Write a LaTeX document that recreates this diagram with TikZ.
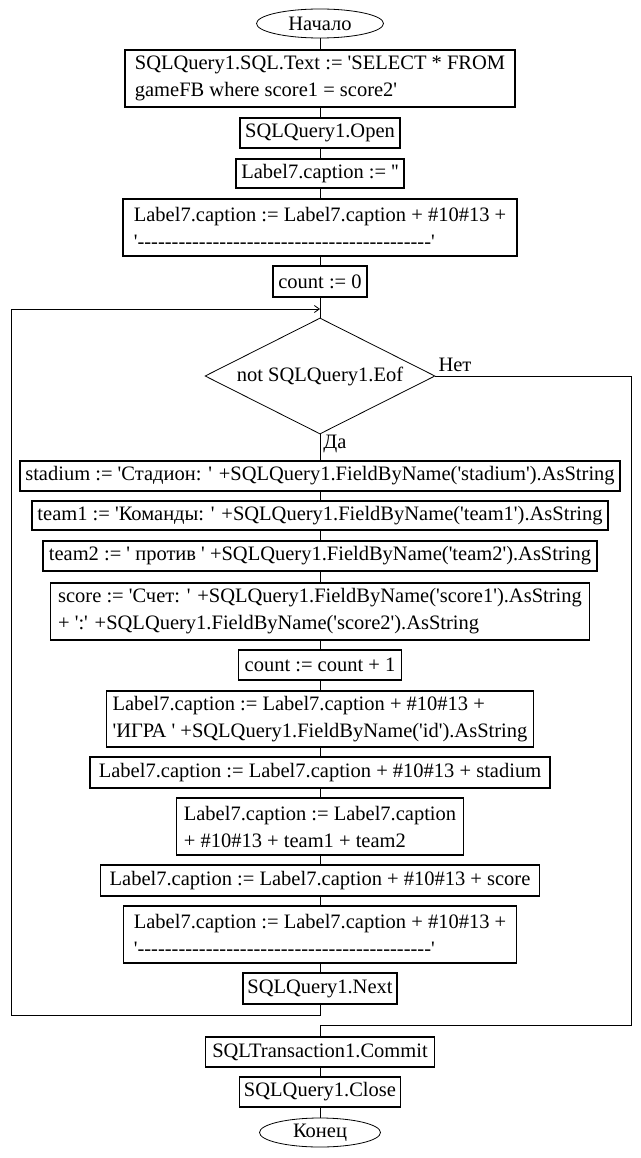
\documentclass[tikz,border=0pt]{standalone}
\usepackage{fontspec}
\newfontfamily\tnr{Liberation Serif}
\usetikzlibrary{shapes.geometric,arrows.meta}
\newcommand\dsh{-{}-{}-{}-{}-{}-{}-{}-{}-{}-{}}
\begin{document}
\begin{tikzpicture}[x=1pt,y=-1pt,
  font=\tnr\fontsize{20.5}{27}\selectfont,
  proc/.style={draw, line width=1.3pt, inner xsep=2pt, inner ysep=0pt, align=left, minimum height=30},
  term/.style={draw, ellipse, line width=0.8pt, inner sep=0pt},
  dec/.style={draw, diamond, shape aspect=2, line width=0.8pt, inner sep=0pt, minimum width=230, minimum height=116},
  conn/.style={line width=1pt},
  lbl/.style={inner sep=0pt}]
\fill[white] (0,0) rectangle (640,1158);
\useasboundingbox (0,0) rectangle (640,1158);

\node[term, minimum width=127, minimum height=29] (start) at (320,23.5) {Начало};
\node[proc, minimum width=390, minimum height=57] (b1) at (320,78.5) {SQLQuery1.SQL.Text := 'SELECT * FROM\\gameFB where score1 = score2'};
\node[proc, minimum width=160] (open) at (320,133) {SQLQuery1.Open};
\node[proc, minimum width=168, minimum height=29] (lblempty) at (320,173.5) {Label7.caption := ''};
\node[proc, minimum width=394, minimum height=57] (lbldash1) at (320,227.5) {Label7.caption := Label7.caption + \#10\#13 +\\'\dsh\dsh\dsh\dsh-{}-{}-'};
\node[proc, minimum width=94, minimum height=31] (count0) at (320,281.5) {count := 0};
\coordinate (join) at (320,309);
\node[dec] (dia) at (320,376) {not SQLQuery1.Eof};
\node[lbl] (net) at (455,365) {Нет};
\node[lbl] (da) at (335,444) {Да};
\node[proc, minimum width=600] (stadium) at (320,476) {stadium := 'Стадион: ' +SQLQuery1.FieldByName('stadium').AsString};
\node[proc, minimum width=576, minimum height=29] (team1) at (320,515.5) {team1 := 'Команды: ' +SQLQuery1.FieldByName('team1').AsString};
\node[proc, minimum width=554] (team2) at (320,556) {team2 := ' против ' +SQLQuery1.FieldByName('team2').AsString};
\node[proc, minimum width=539, minimum height=57] (score) at (320,611.5) {score := 'Счет: ' +SQLQuery1.FieldByName('score1').AsString\\+ ':' +SQLQuery1.FieldByName('score2').AsString};
\node[proc, minimum width=163] (count1) at (320,665) {count := count + 1};
\node[proc, minimum width=427, minimum height=56] (igra) at (320,719) {Label7.caption := Label7.caption + \#10\#13 +\\'ИГРА ' +SQLQuery1.FieldByName('id').AsString};
\node[proc, minimum width=460, minimum height=31] (lstad) at (320,772.5) {Label7.caption := Label7.caption + \#10\#13 + stadium};
\node[proc, minimum width=287, minimum height=57] (lteams) at (320,826.5) {Label7.caption := Label7.caption\\+ \#10\#13 + team1 + team2};
\node[proc, minimum width=439, minimum height=31] (lscore) at (320,880.5) {Label7.caption := Label7.caption + \#10\#13 + score};
\node[proc, minimum width=393, minimum height=57] (ldash2) at (320,934.5) {Label7.caption := Label7.caption + \#10\#13 +\\'\dsh\dsh\dsh\dsh-{}-{}-'};
\node[proc, minimum width=154, minimum height=31] (next) at (320,988.5) {SQLQuery1.Next};
\node[proc, minimum width=229] (commit) at (320,1052) {SQLTransaction1.Commit};
\node[proc, minimum width=161] (close) at (320,1092) {SQLQuery1.Close};
\node[term, minimum width=121, minimum height=29] (end) at (320,1132.5) {Конец};

\draw[conn] (start) -- (b1);
\draw[conn] (b1) -- (open);
\draw[conn] (open) -- (lblempty);
\draw[conn] (lblempty) -- (lbldash1);
\draw[conn] (lbldash1) -- (count0);
\draw[conn] (count0) -- (dia);
\draw[conn] (dia) -- (stadium);
\draw[conn] (stadium) -- (team1);
\draw[conn] (team1) -- (team2);
\draw[conn] (team2) -- (score);
\draw[conn] (score) -- (count1);
\draw[conn] (count1) -- (igra);
\draw[conn] (igra) -- (lstad);
\draw[conn] (lstad) -- (lteams);
\draw[conn] (lteams) -- (lscore);
\draw[conn] (lscore) -- (ldash2);
\draw[conn] (ldash2) -- (next);
\draw[conn] (commit) -- (close);
\draw[conn] (close) -- (end);
\coordinate (lb) at (320,1015);
\coordinate (lc) at (11,309);
\draw[conn, -{Straight Barb[length=5pt,width=7pt,line width=0.8pt]}] (next.south) -- (lb) -| (lc) -- (join);
\coordinate (ex) at (631,1025);
\coordinate (exb) at (320,1025);
\draw[conn] (dia.east) -| (ex) -- (exb) -- (commit.north);
\end{tikzpicture}
\end{document}
